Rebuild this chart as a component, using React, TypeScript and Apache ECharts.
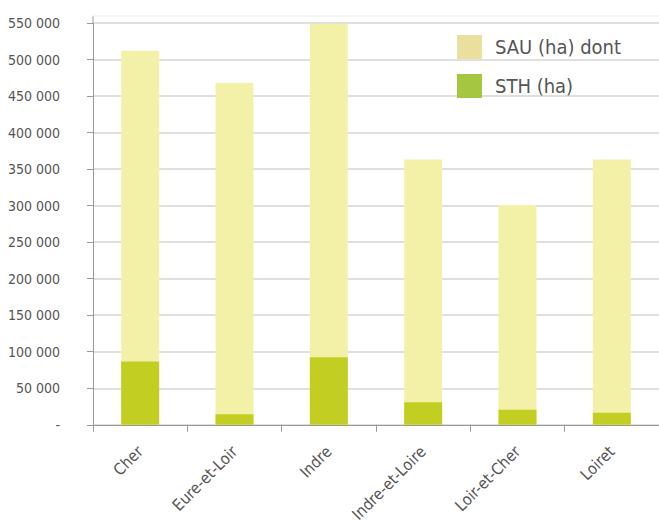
import React, { useEffect, useRef } from "react";
import * as echarts from "echarts";

const categories = ["Cher", "Eure-et-Loir", "Indre", "Indre-et-Loire", "Loir-et-Cher", "Loiret"];
const sauValues = [512000, 468000, 549000, 363000, 301000, 363000];
const sthValues = [86500, 14500, 92500, 31000, 20500, 16500];
const seriesNames = ["SAU (ha) dont", "STH (ha)"];

const FONT = "'DejaVu Sans Condensed', sans-serif";

function fmt(v: number): string {
  if (v === 0) return "-";
  if (v % 50000 !== 0) return "";
  const s = String(v);
  return s.replace(/\B(?=(\d{3})+(?!\d))/g, " ");
}

export default function App() {
  const ref = useRef<HTMLDivElement>(null);
  useEffect(() => {
    document.body.style.margin = "0";
    const chart = echarts.init(ref.current!, undefined, { renderer: "svg" });
    chart.setOption({
      animation: false,
      textStyle: { fontFamily: FONT },
      grid: { left: 93, right: 0, top: 23, height: 416, containLabel: false },
      graphic: [
        { type: "line", shape: { x1: 93, y1: 16, x2: 93, y2: 23 }, style: { stroke: "#9a9a9a", lineWidth: 1 }, silent: true },
        { type: "line", shape: { x1: 93, y1: 16, x2: 659, y2: 16 }, style: { stroke: "#eeeeee", lineWidth: 1 }, silent: true },
      ],
      legend: {
        orient: "vertical",
        left: 452,
        top: 30,
        itemWidth: 25,
        itemHeight: 24,
        itemGap: 15,
        icon: "rect",
        textStyle: { fontFamily: FONT, fontSize: 20, color: "#555555", padding: [0, 0, 0, 8] },
        data: [
          { name: seriesNames[0], itemStyle: { color: "#EADF9C" } },
          { name: seriesNames[1], itemStyle: { color: "#A4C641" } },
        ],
      },
      xAxis: {
        type: "category",
        data: categories,
        axisLine: { show: true, lineStyle: { color: "#9a9a9a", width: 1 } },
        axisTick: { show: true, length: 7, alignWithLabel: false, lineStyle: { color: "#9a9a9a" } },
        axisLabel: { interval: 0, rotate: 45, margin: 24, fontSize: 16, color: "#555555", fontFamily: FONT },
      },
      yAxis: {
        type: "value",
        min: 0,
        max: 550000,
        interval: 50000,
        axisLine: { show: true, lineStyle: { color: "#9a9a9a", width: 1 } },
        axisTick: { show: true, length: 6, lineStyle: { color: "#9a9a9a" } },
        axisLabel: { formatter: fmt, fontSize: 14, color: "#555555", margin: 33, fontFamily: FONT },
        splitLine: { show: true, lineStyle: { color: "#d4d4d4", width: 1.5 } },
      },
      series: [
        {
          name: seriesNames[0],
          type: "bar",
          data: sauValues,
          barWidth: 38,
          itemStyle: { color: "#F3F1A7" },
        },
        {
          name: seriesNames[1],
          type: "bar",
          data: sthValues,
          barWidth: 38,
          barGap: "-100%",
          itemStyle: { color: "#C2CF22" },
        },
      ],
    });
    return () => chart.dispose();
  }, []);
  return <div ref={ref} style={{ width: 659, height: 525 }} />;
}
